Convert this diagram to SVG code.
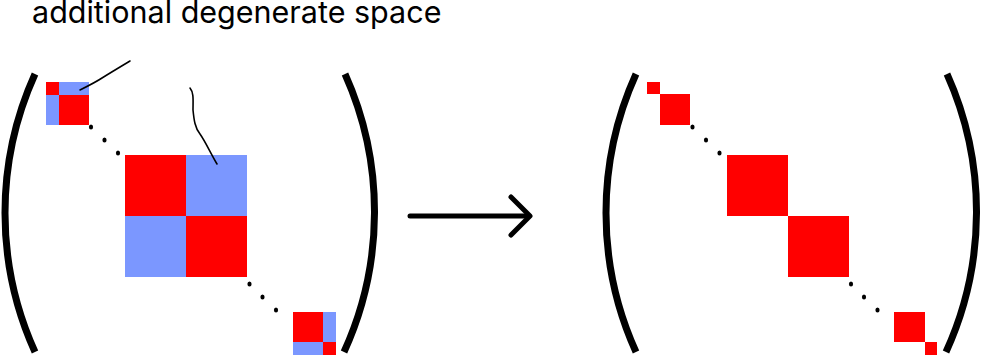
<svg xmlns="http://www.w3.org/2000/svg" width="981" height="355" viewBox="0 0 981 355">
<style>
.r{fill:#ff0000}
.b{fill:#7b97ff}
.br{fill:none;stroke:#000;stroke-width:7}
.dot{fill:#000}
.ann{fill:none;stroke:#000;stroke-width:1.6;stroke-linecap:round;stroke-linejoin:round}
.arr{fill:none;stroke:#000;stroke-width:5;stroke-linecap:round;stroke-linejoin:round}
text{font-family:Inter,"Noto Sans",sans-serif;font-size:30.5px;fill:#000}
</style>
<rect width="981" height="355" fill="#fff"/>
<g id="label"><text x="32" y="23">additional degenerate space</text></g>
<g id="left-matrix">
  <path class="br" d="M35,74 A337,337 0 0 0 35,352"/>
  <path class="br" d="M345,74 A337,337 0 0 1 344,352"/>
  <g id="L-block1">
    <rect class="b" x="46" y="82" width="43" height="43"/>
    <rect class="r" x="46" y="82" width="13" height="13"/>
    <rect class="r" x="59" y="95" width="30" height="30"/>
  </g>
  <g id="L-block2">
    <rect class="b" x="125" y="155" width="122" height="122"/>
    <rect class="r" x="125" y="155" width="61" height="61"/>
    <rect class="r" x="186" y="216" width="61" height="61"/>
  </g>
  <g id="L-block3">
    <rect class="b" x="293" y="312" width="43" height="43"/>
    <rect class="r" x="293" y="312" width="30" height="30"/>
    <rect class="r" x="323" y="342" width="13" height="13"/>
  </g>
  <ellipse class="dot" cx="91" cy="127" rx="2.1" ry="2.5"/>
  <ellipse class="dot" cx="104.5" cy="140" rx="2.1" ry="2.5"/>
  <ellipse class="dot" cx="118" cy="153" rx="2.1" ry="2.5"/>
  <ellipse class="dot" cx="249.5" cy="284" rx="2.1" ry="2.5"/>
  <ellipse class="dot" cx="262.5" cy="297" rx="2.1" ry="2.5"/>
  <ellipse class="dot" cx="276" cy="310" rx="2.1" ry="2.5"/>
</g>
<g id="annotations">
  <path class="ann" d="M80,90 C88,86 96,82 102,78 C110,73 120,67 130,61"/>
  <path class="ann" d="M190,88 C194,93 193,100 193,110 C194,120 195,128 200,134 C205,141 210,152 217,164"/>
</g>
<g id="connectors">
  <path class="arr" d="M410,216 H529"/>
  <path class="arr" d="M511,197 L530,216 L511,235"/>
</g>
<g id="right-matrix">
  <path class="br" d="M636,74 A337,337 0 0 0 636,352"/>
  <path class="br" d="M947,74 A337,337 0 0 1 946,352"/>
  <rect class="r" x="647" y="82" width="13" height="12"/>
  <rect class="r" x="660" y="94" width="30" height="31"/>
  <rect class="r" x="727" y="155" width="61" height="61"/>
  <rect class="r" x="788" y="216" width="61" height="61"/>
  <rect class="r" x="894" y="312" width="31" height="30"/>
  <rect class="r" x="925" y="342" width="12" height="13"/>
  <ellipse class="dot" cx="692.5" cy="127" rx="2.1" ry="2.5"/>
  <ellipse class="dot" cx="706" cy="140" rx="2.1" ry="2.5"/>
  <ellipse class="dot" cx="719.5" cy="153" rx="2.1" ry="2.5"/>
  <ellipse class="dot" cx="851" cy="284" rx="2.1" ry="2.5"/>
  <ellipse class="dot" cx="864" cy="297" rx="2.1" ry="2.5"/>
  <ellipse class="dot" cx="877.5" cy="310" rx="2.1" ry="2.5"/>
</g>
</svg>
